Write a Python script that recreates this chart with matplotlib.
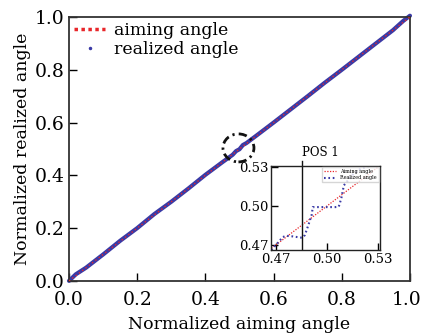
import matplotlib
matplotlib.use("Agg")
import matplotlib.pyplot as plt
import matplotlib.transforms as mtransforms
from matplotlib.patches import Ellipse

plt.rcParams['font.family'] = ['DejaVu Serif']
plt.rcParams['mathtext.fontset'] = 'dejavuserif'

# data
aim_x = [0.0, 1.0]
aim_y = [0.0, 1.0]

real_x = [0.0, 0.02, 0.05, 0.10, 0.15, 0.20, 0.25, 0.30, 0.35, 0.40, 0.45,
          0.48, 0.49, 0.50, 0.51, 0.52, 0.55, 0.60, 0.65, 0.70, 0.75, 0.80,
          0.85, 0.90, 0.95, 0.98, 1.0]
real_y = [0.0, 0.025, 0.05, 0.10, 0.152, 0.20, 0.253, 0.30, 0.35, 0.402, 0.45,
          0.478, 0.492, 0.499, 0.515, 0.522, 0.551, 0.60, 0.65, 0.70, 0.751, 0.80,
          0.85, 0.90, 0.95, 0.985, 1.005]

# zoom around POS 1
ins_x = [0.4672, 0.4700, 0.4740, 0.4760, 0.4800, 0.4840, 0.4855, 0.4870,
         0.4890, 0.4910, 0.4917, 0.4950, 0.5000, 0.5050, 0.5070, 0.5085,
         0.5100, 0.5150, 0.5200, 0.5255]
ins_y = [0.4660, 0.4700, 0.4760, 0.4770, 0.4765, 0.4757, 0.4755, 0.4775,
         0.4850, 0.4930, 0.4992, 0.4992, 0.4992, 0.4992, 0.4995, 0.5060,
         0.5160, 0.5240, 0.5290, 0.5310]
pos1 = 0.4853

red = '#e8262a'
blue = '#3a3aa6'

fig = plt.figure(figsize=(4.22, 3.34), dpi=100)
ax = fig.add_axes([0.1635, 0.159, 0.808, 0.79])

ax.plot(real_x, real_y, color=blue, lw=3.0, solid_capstyle='round', zorder=2,
        clip_on=False)
ax.plot(aim_x, aim_y, color=red, lw=1.0, ls=(0, (1, 2)), zorder=3)
# legend handles
ax.plot([], [], color=red, lw=2.5, ls=(0, (1, 1)), label='aiming angle')
ax.plot([], [], color=blue, ls='none', marker='.', ms=3, label='realized angle')

ax.add_patch(Ellipse((0.497, 0.504), 31 / 341, 28 / 264, fill=False,
                     ec='#111111', lw=2.0, ls=(0, (3, 1.5, 0.8, 1.5)), zorder=4))

ax.set_xlim(0, 1)
ax.set_ylim(0, 1)
ax.set_xticks([0, 0.2, 0.4, 0.6, 0.8, 1.0])
ax.set_yticks([0, 0.2, 0.4, 0.6, 0.8, 1.0])
ax.tick_params(direction='in', length=6, width=1, labelsize=13.5, pad=3)
ax.tick_params(axis='x', pad=7)
for s in ax.spines.values():
    s.set_linewidth(1.3)
    s.set_color('#333333')
ax.set_xlabel('Normalized aiming angle', fontsize=12.5, labelpad=5)
ax.set_ylabel('Normalized realized angle', fontsize=12.5, labelpad=3)
ax.legend(loc='upper left', frameon=False, fontsize=12.5, handlelength=1.8,
          handletextpad=0.5, borderaxespad=0.1, labelspacing=0.1,
          borderpad=0.2)

# keep the last x label inside the picture
last = ax.get_xticklabels()[-1]
last.set_transform(last.get_transform() +
                   mtransforms.ScaledTranslation(-3 / 100, 0, fig.dpi_scale_trans))

# inset
axi = fig.add_axes([0.642, 0.2515, 0.258, 0.2515])
axi.plot(aim_x, aim_y, color=red, lw=0.9, ls=(0, (1, 1.2)), label='Aiming angle')
axi.plot(ins_x, ins_y, color=blue, lw=1.5, ls=(0, (0.8, 1.3)),
         label='Realized angle')
axi.plot([pos1, pos1], [0.4669, 0.5346], color='#111111', lw=1.0,
         clip_on=False)
axi.text(pos1, 0.5362, 'POS 1', fontsize=8.5, ha='left', va='bottom')
axi.set_xlim(0.467, 0.5312)
axi.set_ylim(0.466, 0.531)
axi.set_xticks([0.47, 0.50, 0.53])
axi.set_yticks([0.47, 0.50, 0.53])
axi.set_xticklabels(['0.47', '0.50', '0.53'])
axi.set_yticklabels(['0.47', '0.50', '0.53'])
axi.tick_params(direction='in', length=5, width=1, labelsize=9.5, pad=2)
for s in axi.spines.values():
    s.set_linewidth(1.0)
    s.set_color('#222222')
axi.legend(loc='upper right', fontsize=3.5, handlelength=2.5, frameon=True,
           fancybox=False, edgecolor='#cccccc', borderaxespad=0.2,
           labelspacing=0.3)

fig.savefig('out.png', dpi=100)
